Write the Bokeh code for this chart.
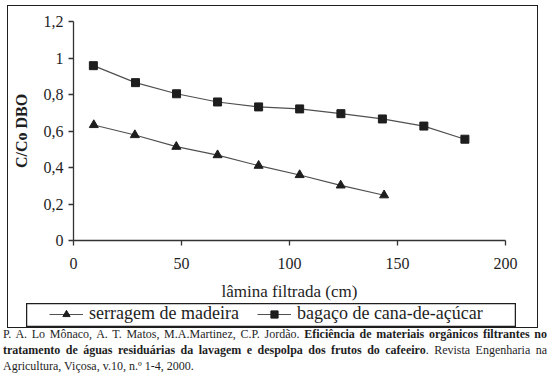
from bokeh.plotting import figure
from bokeh.models import FixedTicker, Legend, LegendItem, Div, Range1d
from bokeh.layouts import column, row
from bokeh.embed import file_html
from bokeh.resources import INLINE

# data
x_bagaco = [9.2, 28.7, 47.7, 66.7, 85.7, 104.7, 123.8, 143.0, 162.2, 181.2]
y_bagaco = [0.958, 0.865, 0.804, 0.759, 0.732, 0.721, 0.695, 0.666, 0.627, 0.555]
x_serragem = [9.4, 28.4, 47.6, 66.7, 85.7, 104.7, 123.7, 143.8]
y_serragem = [0.633, 0.578, 0.514, 0.468, 0.410, 0.359, 0.302, 0.248]

x_ticks = [0, 50, 100, 150, 200]
y_ticks = [0, 0.2, 0.4, 0.6, 0.8, 1.0, 1.2]
y_tick_labels = ["0", "0,2", "0,4", "0,6", "0,8", "1", "1,2"]

name_serragem = "serragem de madeira"
name_bagaco = "bagaço de cana-de-açúcar"
x_title = "lâmina filtrada (cm)"
y_title = "C/Co DBO"

FONT = "'Liberation Serif', 'Times New Roman', serif"
INK = "#1e1e1e"

# ---------------- main chart ----------------
W, H = 529, 297
FL, FR, FT, FB = 65, 497, 15, 234   # frame edges inside the figure

p = figure(width=W, height=H, output_backend="svg", toolbar_location=None,
           x_range=Range1d(0, 200), y_range=Range1d(0, 1.2),
           min_border_left=FL, min_border_right=W - FR, min_border_top=FT,
           min_border_bottom=H - FB)
p.outline_line_color = None
p.grid.visible = False

l1 = p.line(x_serragem, y_serragem, line_color="#505050", line_width=1.2)
m1 = p.scatter(x_serragem, y_serragem, marker="triangle", size=9,
               fill_color=INK, line_color=INK)
l2 = p.line(x_bagaco, y_bagaco, line_color="#505050", line_width=1.2)
m2 = p.scatter(x_bagaco, y_bagaco, marker="square", size=8,
               fill_color=INK, line_color=INK)

for ax in (p.xaxis[0], p.yaxis[0]):
    ax.axis_line_color = "#333333"
    ax.axis_line_width = 1.3
    ax.major_tick_line_color = "#333333"
    ax.major_tick_line_width = 1.3
    ax.major_tick_in = 0
    ax.major_tick_out = 5
    ax.minor_tick_line_color = None
    ax.major_label_text_font = FONT
    ax.major_label_text_font_size = "16px"
    ax.major_label_text_color = INK
    ax.axis_label_text_font = FONT
    ax.axis_label_text_color = INK

p.xaxis.ticker = FixedTicker(ticks=x_ticks)
p.yaxis.ticker = FixedTicker(ticks=y_ticks)
p.yaxis.major_label_overrides = {t: s for t, s in zip(y_ticks, y_tick_labels)}
p.xaxis.major_label_standoff = 12
p.yaxis.major_label_standoff = 5
p.xaxis.axis_label = x_title
p.xaxis.axis_label_text_font_size = "17px"
p.xaxis.axis_label_text_font_style = "normal"
p.xaxis.axis_label_standoff = 10
p.yaxis.axis_label = y_title
p.yaxis.axis_label_text_font_size = "16px"
p.yaxis.axis_label_text_font_style = "bold"
p.yaxis.axis_label_standoff = 11

# ---------------- legend strip (its frame is the legend box) ----------------
q = figure(width=490, height=24, output_backend="svg", toolbar_location=None,
           x_axis_location=None, y_axis_location=None,
           x_range=Range1d(1000, 1001), y_range=Range1d(1000, 1001),
           min_border=0)
q.grid.visible = False
q.outline_line_color = INK
q.outline_line_width = 1.5
ql1 = q.line(x_serragem, y_serragem, line_color="#505050", line_width=1.2)
qm1 = q.scatter(x_serragem, y_serragem, marker="triangle", size=9,
                fill_color=INK, line_color=INK)
ql2 = q.line(x_bagaco, y_bagaco, line_color="#505050", line_width=1.2)
qm2 = q.scatter(x_bagaco, y_bagaco, marker="square", size=8,
                fill_color=INK, line_color=INK)
legend = Legend(items=[LegendItem(label=name_serragem, renderers=[ql1, qm1]),
                       LegendItem(label=name_bagaco, renderers=[ql2, qm2])],
                orientation="horizontal", location=(23, 3),
                border_line_color=None, background_fill_alpha=0,
                padding=0, margin=0, spacing=18, glyph_width=34, glyph_height=18,
                label_standoff=6, label_text_font=FONT, label_text_font_size="18px",
                label_height=18, label_text_color=INK, label_text_baseline="middle")
q.add_layout(legend, "center")

legend_row = row(q, margin=(0, 0, 0, 18))
chart = column(p, legend_row, spacing=0, margin=(5, 0, 0, 7),
               styles={"border": "1.5px solid #1e1e1e"})

# ---------------- citation ----------------
SER = "font-family:'Liberation Serif','Times New Roman',serif;"
line1 = ("P. A. Lo Mônaco, A. T. Matos, M.A.Martinez, C.P. Jordão. "
         "<b>Eficiência de materiais orgânicos filtrantes no</b>")
line2 = ("<b>tratamento de águas residuárias da lavagem e despolpa dos frutos do cafeeiro</b>. "
         "Revista Engenharia na")
line3 = "Agricultura, Viçosa, v.10, n.º 1-4, 2000."
J = "text-align:justify;text-align-last:justify;"
html = (f"<div style=\"{SER}font-size:12px;line-height:16px;color:{INK};width:544px;\">"
        f"<div style=\"{J}\">{line1}</div>"
        f"<div style=\"{J}\">{line2}</div>"
        f"<div style=\"text-align:left;\">{line3}</div></div>")
citation = Div(text=html, width=544, margin=(-2, 0, 0, 3))

layout = column(chart, citation, spacing=0)
open("out.html", "w").write(file_html(layout, INLINE))
